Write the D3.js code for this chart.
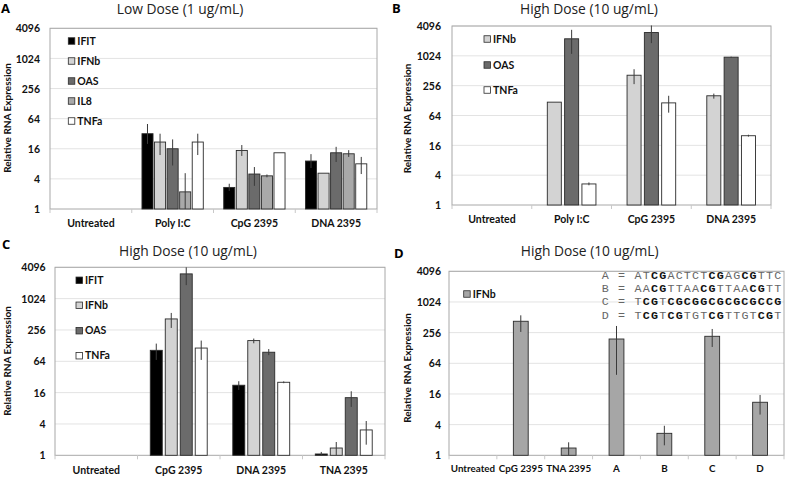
<!DOCTYPE html>
<html><head><meta charset="utf-8">
<script src="https://cdn.jsdelivr.net/npm/d3@7"></script>
<style>
body{margin:0;background:#fff}
svg{display:block;font-family:Lato,"Open Sans",sans-serif}
</style>
</head><body>
<svg id="chart" width="785" height="477"></svg>
<script>
// ---------- shared axis data ----------
const yTickValues = [1, 4, 16, 64, 256, 1024, 4096];
const yTickLabels = ["1", "4", "16", "64", "256", "1024", "4096"];
const yAxisTitle = "Relative RNA Expression";

// ---------- Panel A : Low Dose ----------
const titleA = "Low Dose (1 ug/mL)";
const catsA = ["Untreated", "Poly I:C", "CpG 2395", "DNA 2395"];
const seriesA = ["IFIT", "IFNb", "OAS", "IL8", "TNFa"];
const valuesA = [
  [null, 32, 2.7, 9.1],
  [null, 21.8, 14.8, 5.2],
  [null, 16, 5, 13.3],
  [null, 2.2, 4.6, 12.7],
  [null, 21.8, 13.3, 8]
];
const errLowA = [
  [null, 20, 2.3, 6.6],
  [null, 12, 11.5, null],
  [null, 7.4, 2.9, 8.7],
  [null, 1, 4.3, 11],
  [null, 12, null, 5]
];
const errHighA = [
  [null, 50, 3.2, 12.5],
  [null, 32, 19, null],
  [null, 24.6, 6.9, 17.5],
  [null, 5.2, 4.9, 15],
  [null, 32, null, 11]
];

// ---------- Panel B : High Dose ----------
const titleB = "High Dose (10 ug/mL)";
const catsB = ["Untreated", "Poly I:C", "CpG 2395", "DNA 2395"];
const seriesB = ["IFNb", "OAS", "TNFa"];
const valuesB = [
  [null, 119, 416, 160],
  [null, 2260, 3020, 963],
  [null, 2.66, 115, 25]
];
const errLowB = [
  [null, null, 275, 140],
  [null, 1120, 1850, 940],
  [null, 2.5, 73, 24]
];
const errHighB = [
  [null, null, 550, 177],
  [null, 3430, 4200, 985],
  [null, 2.85, 160, 26.2]
];

// ---------- Panel C : High Dose ----------
const titleC = "High Dose (10 ug/mL)";
const catsC = ["Untreated", "CpG 2395", "DNA 2395", "TNA 2395"];
const seriesC = ["IFIT", "IFNb", "OAS", "TNFa"];
const valuesC = [
  [null, 104, 22.2, 1.06],
  [null, 417, 160, 1.38],
  [null, 3060, 95.6, 12.8],
  [null, 115, 25.3, 3.07]
];
const errLowC = [
  [null, 68, 18, 1],
  [null, 280, 142, 1],
  [null, 1860, 84, 8.5],
  [null, 68, 24.3, 1.6]
];
const errHighC = [
  [null, 140, 26.5, 1.16],
  [null, 544, 175, 1.8],
  [null, 4096, 110, 17],
  [null, 160, 26.3, 4.56]
];

// ---------- Panel D : High Dose, sequences ----------
const titleD = "High Dose (10 ug/mL)";
const catsD = ["Untreated", "CpG 2395", "TNA 2395", "A", "B", "C", "D"];
const seriesD = ["IFNb"];
const valuesD = [[1, 428, 1.39, 192, 2.7, 217, 11]];
const errLowD = [[null, 264, 1, 38, 1.57, 134, 6.3]];
const errHighD = [[null, 560, 1.8, 346, 3.8, 302, 15.3]];
const seqNames = ["A", "B", "C", "D"];
const seqs = ["ATCGACTCTCGAGCGTTC", "AACGTTAACGTTAACGTT", "TCGTCGCGGCGCGCGCCG", "TCGTCGTGTCGTTGTCGT"];
const seqBold = ["..XX.....XX..XX...", "..XX....XX....XX..", ".XX.XXXXXXXXXXXXXX", ".XX.XX...XX....XX."];

// ---------- styles ----------
const seriesColor = {IFIT: "#000000", IFNb: "#d3d3d3", OAS: "#6b6b6b", IL8: "#a9a9a9", TNFa: "#ffffff"};
const svg = d3.select("#chart");

function panel(cfg) {
  const g = svg.append("g");
  const y = d3.scaleLog().base(2).domain([1, 4096]).range([cfg.bottom, cfg.top]);
  const x = d3.scaleBand().domain(cfg.cats).range([cfg.left, cfg.right]).padding(0);
  const bw = x.bandwidth() * cfg.groupFrac;
  const xi = d3.scaleBand().domain(cfg.series).range([-bw / 2, bw / 2]).paddingInner(cfg.inner).paddingOuter(0);

  // gridlines
  g.append("g").selectAll("line").data(yTickValues.slice(1)).join("line")
    .attr("x1", cfg.left).attr("x2", cfg.right)
    .attr("y1", d => y(d)).attr("y2", d => y(d))
    .attr("stroke", "#e3e3e3").attr("stroke-width", 1);
  // frame
  g.append("rect").attr("x", cfg.left).attr("y", cfg.top)
    .attr("width", cfg.right - cfg.left).attr("height", cfg.bottom - cfg.top)
    .attr("fill", "none").attr("stroke", "#a8a8a8").attr("stroke-width", 1);
  // category separator ticks
  const seps = cfg.cats.map(c => x(c)).concat([cfg.right]);
  g.append("g").selectAll("line").data(seps).join("line")
    .attr("x1", d => d).attr("x2", d => d).attr("y1", cfg.bottom).attr("y2", cfg.bottom + 4)
    .attr("stroke", "#c8c8c8");

  // y axis tick labels
  const yAxis = d3.axisLeft(y).tickValues(yTickValues).tickFormat((d, i) => yTickLabels[i]).tickSize(0).tickPadding(0);
  const ya = g.append("g").attr("transform", `translate(${cfg.tickX},0)`).call(yAxis);
  ya.select(".domain").remove();
  ya.selectAll("text").attr("font-family", "Lato").attr("font-weight", 700)
    .attr("font-size", cfg.tickFont).attr("fill", "#111").attr("dy", "0.35em");

  // x axis labels
  const xAxis = d3.axisBottom(x).tickSize(0).tickPadding(0);
  const xa = g.append("g").attr("transform", `translate(0,${cfg.catY})`).call(xAxis);
  xa.select(".domain").remove();
  xa.selectAll("text").attr("font-family", "Lato").attr("font-weight", 700)
    .attr("font-size", cfg.catFont).attr("fill", "#111").attr("dy", "0.35em");

  // y title
  g.append("text").attr("transform", `translate(${cfg.yTitleX},${cfg.yTitleY}) rotate(-90)`)
    .attr("text-anchor", "middle").attr("dy", "0.35em")
    .attr("font-weight", 700).attr("font-size", cfg.yTitleFont).attr("fill", "#111").text(yAxisTitle);
  // title
  g.append("text").attr("x", cfg.titleX).attr("y", cfg.titleY).attr("text-anchor", "middle")
    .attr("font-family", "Open Sans").attr("font-size", cfg.titleFont).attr("fill", "#222").text(cfg.title);
  // panel letter
  g.append("text").attr("x", cfg.letterX).attr("y", cfg.letterY)
    .attr("font-family", "Open Sans").attr("font-size", 13).attr("font-weight", 700).attr("fill", "#000").text(cfg.letter);

  // bars
  const recs = [];
  cfg.series.forEach((s, si) => {
    cfg.cats.forEach((c, ci) => {
      const v = cfg.values[si][ci];
      if (v == null) return;
      recs.push({s, c, v, lo: cfg.errLow[si][ci], hi: cfg.errHigh[si][ci], color: cfg.colors[s]});
    });
  });
  const cx = d => x(d.c) + x.bandwidth() / 2 + xi(d.s);
  g.append("g").selectAll("rect").data(recs.filter(d => y(d.v) < cfg.bottom - 0.01)).join("rect")
    .attr("x", cx).attr("width", xi.bandwidth())
    .attr("y", d => y(d.v)).attr("height", d => cfg.bottom - y(d.v))
    .attr("fill", d => d.color).attr("stroke", "#2a2a2a").attr("stroke-width", 0.9);
  // error bars
  g.append("g").selectAll("line").data(recs.filter(d => d.hi != null)).join("line")
    .attr("x1", d => cx(d) + xi.bandwidth() / 2).attr("x2", d => cx(d) + xi.bandwidth() / 2)
    .attr("y1", d => y(d.hi)).attr("y2", d => y(d.lo))
    .attr("stroke", "#3a3a3a").attr("stroke-width", 1);

  // legend
  const lg = g.append("g");
  cfg.series.forEach((s, i) => {
    const ly = cfg.legY[i];
    lg.append("rect").attr("x", cfg.legX).attr("y", ly - 3.25).attr("width", 6.5).attr("height", 6.5)
      .attr("fill", cfg.colors[s]).attr("stroke", "#2a2a2a").attr("stroke-width", 0.8);
    lg.append("text").attr("x", cfg.legX + 9).attr("y", ly).attr("dy", "0.35em")
      .attr("font-weight", 700).attr("font-size", cfg.legFont).attr("fill", "#111").text(s);
  });
}

panel({letter: "A", letterX: 1, letterY: 13, title: titleA, titleX: 180, titleY: 14, titleFont: 13.8,
  cats: catsA, series: seriesA, values: valuesA, errLow: errLowA, errHigh: errHighA, colors: seriesColor,
  left: 50, right: 377, top: 28.3, bottom: 209, groupFrac: 0.75, inner: 0.12,
  tickX: 40, tickFont: 10.5, catY: 223, catFont: 10.5, yTitleX: 7.5, yTitleY: 118, yTitleFont: 10,
  legX: 68.3, legY: [41, 61, 81, 101, 121], legFont: 10.5});

panel({letter: "B", letterX: 392, letterY: 13, title: titleB, titleX: 589, titleY: 14, titleFont: 13.8,
  cats: catsB, series: seriesB, values: valuesB, errLow: errLowB, errHigh: errHighB, colors: seriesColor,
  left: 452, right: 771, top: 26, bottom: 205, groupFrac: 0.61, inner: 0.19,
  tickX: 441, tickFont: 10.5, catY: 219, catFont: 10.5, yTitleX: 407, yTitleY: 118.5, yTitleFont: 10,
  legX: 484, legY: [39, 65, 90], legFont: 10.5});

panel({letter: "C", letterX: 2, letterY: 249, title: titleC, titleX: 188, titleY: 256, titleFont: 13.8,
  cats: catsC, series: seriesC, values: valuesC, errLow: errLowC, errHigh: errHighC, colors: seriesColor,
  left: 55, right: 385, top: 267.3, bottom: 455.3, groupFrac: 0.69, inner: 0.2,
  tickX: 45.7, tickFont: 10.5, catY: 470, catFont: 10.5, yTitleX: 7.5, yTitleY: 361, yTitleFont: 10,
  legX: 76, legY: [280.3, 305.3, 330.7, 355.7], legFont: 10.5});

panel({letter: "D", letterX: 394, letterY: 258, title: titleD, titleX: 589.7, titleY: 256, titleFont: 13.8,
  cats: catsD, series: seriesD, values: valuesD, errLow: errLowD, errHigh: errHighD,
  colors: Object.assign({}, seriesColor, {IFNb: "#a6a6a6"}),
  left: 449, right: 784, top: 271.3, bottom: 455.3, groupFrac: 0.31, inner: 0,
  tickX: 441, tickFont: 10.5, catY: 468.7, catFont: 9.8, yTitleX: 407, yTitleY: 368, yTitleFont: 10,
  legX: 463.7, legY: [294], legFont: 10.5});

// sequences in panel D (runs of equal weight grouped into one tspan)
const seqG = svg.append("g");
seqs.forEach((sq, i) => {
  const t = seqG.append("text").attr("x", 601.7).attr("y", 278.7 + i * 13.3)
    .attr("font-family", "'Liberation Mono', monospace").attr("font-size", 11.7)
    .attr("letter-spacing", 1.2)
    .style("white-space", "pre");
  const runs = [];
  sq.split("").forEach((ch, k) => {
    const b = seqBold[i][k] === "X";
    if (runs.length && runs[runs.length - 1].b === b) runs[runs.length - 1].s += ch;
    else runs.push({b, s: ch});
  });
  runs[0].b ? runs.unshift({b: false, s: seqNames[i] + " = "}) : (runs[0].s = seqNames[i] + " = " + runs[0].s);
  runs.forEach(r => t.append("tspan").attr("fill", r.b ? "#111" : "#666")
    .attr("font-weight", r.b ? 700 : 400).text(r.s));
});
</script>
</body></html>
